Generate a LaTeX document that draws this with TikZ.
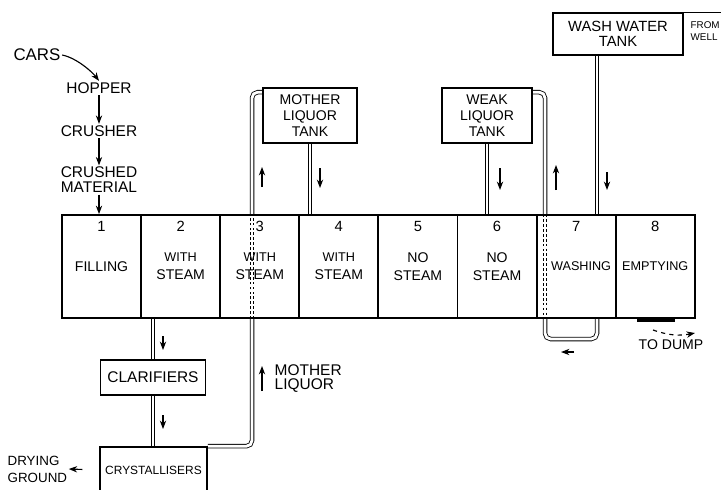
\documentclass[tikz,border=0pt]{standalone}
\usepackage{fontspec}
\setmainfont{Liberation Sans}
\usetikzlibrary{arrows.meta,positioning,calc,backgrounds}

\begin{document}
\begin{tikzpicture}[
    x=0.025cm, y=-0.025cm,
    cell/.style={draw, line width=1.3pt, minimum width=1.978cm, minimum height=2.575cm, align=center, inner sep=1pt, font=\fontsize{10}{12.8}\selectfont},
    num/.style={anchor=north, yshift=-4pt, inner sep=1pt, font=\fontsize{10.5}{12}\selectfont},
    tank/.style={draw, line width=1.1pt, align=center, inner sep=1pt, font=\fontsize{10}{11.4}\selectfont},
    txt/.style={align=left, inner sep=1pt, font=\fontsize{11}{10.7}\selectfont},
    pipe/.style={double, double distance=2pt, line width=0.6pt, rounded corners=4pt},
    hidden/.style={pipe, dash pattern=on 2pt off 1.5pt},
    arr/.style={-{Stealth[length=6pt, width=4.5pt]}, thick}
]
\useasboundingbox (0,0) rectangle (728,489);
\clip (0,0) rectangle (728,489);

% feed
\node[txt, font=\fontsize{12}{12}\selectfont] (cars) at (37,55) {CARS};
\node[txt] (hop) at (99,88) {HOPPER};
\node[txt] (cru) at (99,131) {CRUSHER};
\node[txt] (cm) at (99,180) {CRUSHED\\MATERIAL};

% diffusion battery
\node[cell, label={[num]north:1}] (c1) at (101.55,266.5) {FILLING};
\node[cell, label={[num]north:2}] (c2) at (180.65,266.5) {{\small WITH}\\STEAM};
\node[cell, label={[num]north:3}] (c3) at (259.75,266.5) {{\small WITH}\\STEAM};
\node[cell, label={[num]north:4}] (c4) at (338.85,266.5) {{\small WITH}\\STEAM};
\node[cell, label={[num]north:5}] (c5) at (417.95,266.5) {NO\\STEAM};
\node[cell, label={[num]north:6}] (c6) at (497.05,266.5) {NO\\STEAM};
\node[cell, label={[num]north:7}, font=\fontsize{9}{11}\selectfont] (c7) at (576.15,266.5) {\kern7pt WASHING};
\node[cell, label={[num]north:8}, font=\fontsize{9}{11}\selectfont] (c8) at (655.25,266.5) {EMPTYING};

% tanks
\node[tank, minimum width=2.35cm, minimum height=1.375cm] (mlt) at (310,115.5) {MOTHER\\LIQUOR\\TANK};
\node[tank, minimum width=2.25cm, minimum height=1.375cm] (wlt) at (487,115.5) {WEAK\\LIQUOR\\TANK};
\node[tank, minimum width=3.25cm, minimum height=1.05cm, font=\fontsize{10.5}{11}\selectfont] (wwt) at (618,34) {WASH WATER\\TANK};
\node[tank, minimum width=2.625cm, minimum height=0.875cm, font=\fontsize{11}{12}\selectfont] (cla) at (153,377.5) {CLARIFIERS};
\node[tank, minimum width=2.675cm, minimum height=1.15cm, font=\fontsize{8.5}{10}\selectfont] (cry) at (153.5,470) {CRYSTALLISERS};

% labels
\node[txt, anchor=west, font=\fontsize{7}{8.5}\selectfont] (well) at (689,31) {FROM\\WELL};
\node[txt, anchor=west, font=\fontsize{11}{10}\selectfont] (mll) at (273,379) {MOTHER\\LIQUOR};
\node[txt, anchor=west, font=\fontsize{9.5}{12}\selectfont] (dry) at (6,469) {DRYING\\GROUND};
\node[txt, font=\fontsize{10}{12}\selectfont] (dump) at (671,345) {TO DUMP};

\draw[arr] (cars.east) .. controls +(15,3) and +(-6,-8) .. (hop.north);
\draw[arr] (hop.south) -- (hop.south |- cru.north);
\draw[arr] (cru.south) -- (cru.south |- cm.north);
\draw[arr] (cm.south) -- (cm.south |- c1.north);
\draw[arr, shorten <=12pt] (cry.west) -- (dry.east);
\draw[semithick] (wwt.north east) -- (wwt.north east -| well.east);

% discharge door
\draw[line width=2.5pt] ($(c8.south)+(-18,1.5)$) -- ($(c8.south)+(20,1.5)$);
\coordinate (dmpA) at (653,330);
\coordinate (dmpB) at (695,333);
\draw[arr, dashed] (dmpA) to[bend right=15] (dmpB);

% flow marks
\coordinate (fa1) at (262,187); \coordinate (fa2) at (262,167);
\coordinate (fb1) at (320,168); \coordinate (fb2) at (320,188);
\coordinate (fc1) at (500,168); \coordinate (fc2) at (500,190);
\coordinate (fd1) at (556,190); \coordinate (fd2) at (556,165);
\coordinate (fe1) at (607,172); \coordinate (fe2) at (607,190);
\coordinate (ff1) at (163,336); \coordinate (ff2) at (163,350);
\coordinate (fg1) at (163,415); \coordinate (fg2) at (163,429);
\coordinate (fh1) at (262,391); \coordinate (fh2) at (262,366);
\coordinate (fi1) at (574,352); \coordinate (fi2) at (561,352);
\draw[arr] (fa1) -- (fa2);
\draw[arr] (fb1) -- (fb2);
\draw[arr] (fc1) -- (fc2);
\draw[arr] (fd1) -- (fd2);
\draw[arr] (fe1) -- (fe2);
\draw[arr] (ff1) -- (ff2);
\draw[arr] (fg1) -- (fg2);
\draw[arr] (fh1) -- (fh2);
\draw[arr] (fi1) -- (fi2);

% pipes
\coordinate (p3) at (252,0);
\coordinate (p7) at (545,0);
\coordinate (pw) at (597,0);
\coordinate (lp) at (0,339);
\coordinate (mlin) at ($(mlt.north west)+(0,5)$);
\coordinate (wlin) at ($(wlt.north east)+(0,5)$);
\begin{scope}[on background layer]
\draw[pipe] (cry.north east) -- (p3 |- cry.north) -- (p3 |- c3.south);
\draw[hidden] (p3 |- c3.south) -- (p3 |- c3.north);
\draw[pipe] (p3 |- c3.north) |- (mlin);
\draw[pipe] (mlt.south) -- (mlt.south |- c4.north);
\draw[pipe] (wlt.south) -- (wlt.south |- c6.north);
\draw[pipe] (wlin) -| (p7 |- c7.north);
\draw[hidden] (p7 |- c7.north) -- (p7 |- c7.south);
\draw[pipe] (p7 |- c7.south) -- (p7 |- lp) -- (pw |- lp) -- (pw |- c7.south);
\draw[pipe] (pw |- wwt.south) -- (pw |- c7.north);
\draw[pipe] (cla.north |- c2.south) -- (cla.north);
\draw[pipe] (cla.south) -- (cla.south |- cry.north);
\end{scope}
\end{tikzpicture}
\end{document}
